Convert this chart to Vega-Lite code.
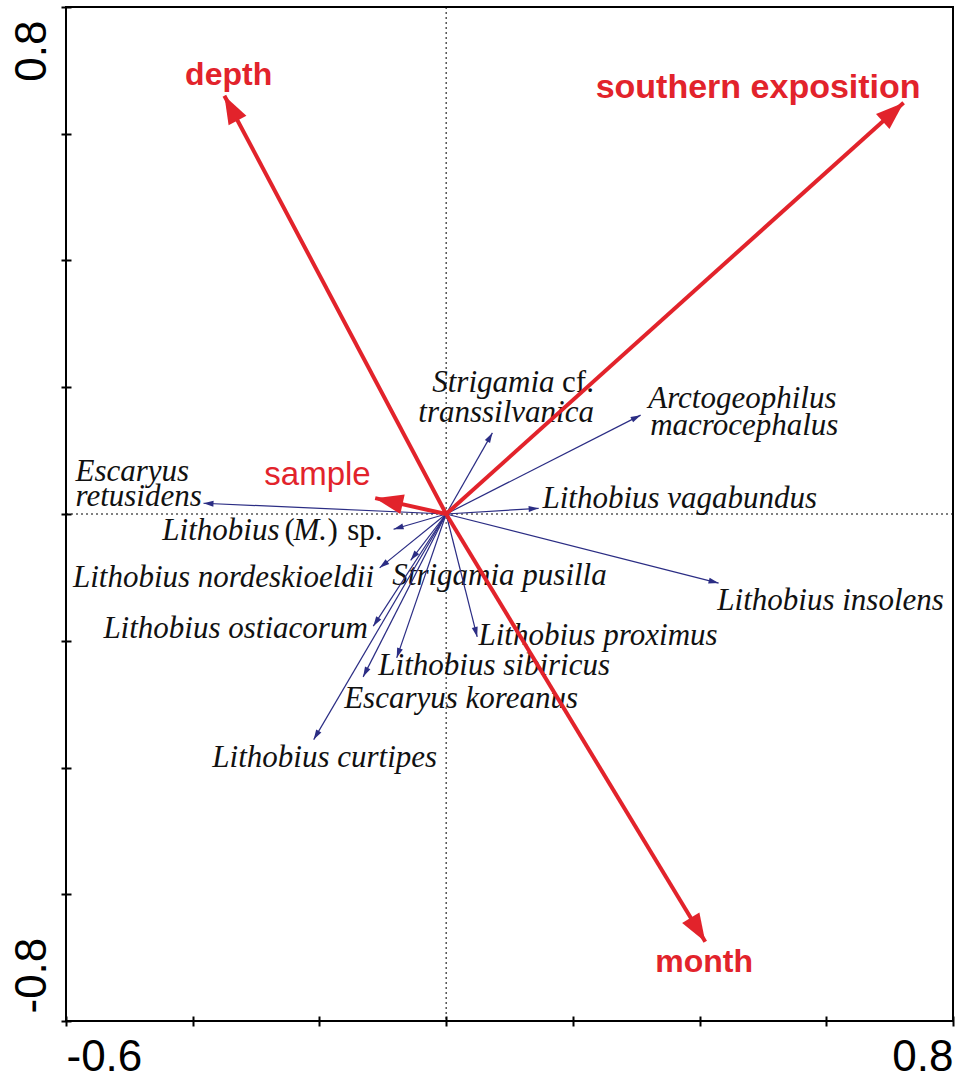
{
  "$schema": "https://vega.github.io/schema/vega-lite/v6.json",
  "width": 887,
  "height": 1014,
  "autosize": {"type": "none"},
  "padding": {"left": 66, "top": 7, "right": 2, "bottom": 58},
  "background": "white",
  "config": {
    "view": {"stroke": "#000", "strokeWidth": 2},
    "axisX": {
      "title": null, "domain": false, "grid": false, "offset": -5,
      "tickSize": 10, "tickWidth": 2, "tickColor": "#000",
      "labelFont": "Liberation Sans", "labelFontSize": 44, "labelColor": "#000",
      "labelPadding": 9, "labelFlush": true, "labelOverlap": false, "labelBound": false
    },
    "axisY": {
      "title": null, "domain": false, "grid": false, "offset": -5,
      "tickSize": 10, "tickWidth": 2, "tickColor": "#000",
      "labelFont": "Liberation Sans", "labelFontSize": 44, "labelColor": "#000",
      "labelAngle": -90, "labelBaseline": "bottom",
      "labelPadding": 7, "labelOverlap": false, "labelBound": false
    }
  },
  "datasets": {
    "env": [
      {"name": "depth", "x0": 0, "y0": 0, "x": -0.350, "y": 0.660, "lx": -0.412, "ly": 0.677},
      {"name": "southern exposition", "x0": 0, "y0": 0, "x": 0.722, "y": 0.649, "lx": 0.236, "ly": 0.656},
      {"name": "month", "x0": 0, "y0": 0, "x": 0.409, "y": -0.675, "lx": 0.330, "ly": -0.723},
      {"name": "sample", "x0": 0, "y0": 0, "x": -0.112, "y": 0.025, "lx": -0.287, "ly": 0.046}
    ],
    "species": [
      {"name": "Escaryus retusidens", "x0": 0, "y0": 0, "x": -0.383, "y": 0.017},
      {"name": "Lithobius (M.) sp.", "x0": 0, "y0": 0, "x": -0.083, "y": -0.024},
      {"name": "Lithobius nordeskioeldii", "x0": 0, "y0": 0, "x": -0.105, "y": -0.085},
      {"name": "Strigamia pusilla", "x0": 0, "y0": 0, "x": -0.056, "y": -0.073},
      {"name": "Lithobius ostiacorum", "x0": 0, "y0": 0, "x": -0.115, "y": -0.177},
      {"name": "Escaryus koreanus", "x0": 0, "y0": 0, "x": -0.131, "y": -0.257},
      {"name": "Lithobius sibiricus", "x0": 0, "y0": 0, "x": -0.078, "y": -0.227},
      {"name": "Lithobius curtipes", "x0": 0, "y0": 0, "x": -0.209, "y": -0.356},
      {"name": "Lithobius proximus", "x0": 0, "y0": 0, "x": 0.049, "y": -0.194},
      {"name": "Lithobius vagabundus", "x0": 0, "y0": 0, "x": 0.146, "y": 0.009},
      {"name": "Arctogeophilus macrocephalus", "x0": 0, "y0": 0, "x": 0.307, "y": 0.156},
      {"name": "Strigamia cf. transsilvanica", "x0": 0, "y0": 0, "x": 0.073, "y": 0.128},
      {"name": "Lithobius insolens", "x0": 0, "y0": 0, "x": 0.430, "y": -0.109}
    ],
    "labels": [
      {"text": "Escaryus", "kind": "taxon", "lx": -0.585, "ly": 0.052},
      {"text": "retusidens", "kind": "taxon", "lx": -0.585, "ly": 0.013},
      {"text": "Lithobius", "kind": "taxon", "lx": -0.4479, "ly": -0.041},
      {"text": "(", "kind": "qualifier", "lx": -0.2553, "ly": -0.041},
      {"text": "M.", "kind": "taxon", "lx": -0.2411, "ly": -0.041},
      {"text": ")", "kind": "qualifier", "lx": -0.1874, "ly": -0.041},
      {"text": "sp.", "kind": "qualifier", "lx": -0.1560, "ly": -0.041},
      {"text": "Lithobius nordeskioeldii", "kind": "taxon", "lx": -0.589, "ly": -0.115},
      {"text": "Strigamia pusilla", "kind": "taxon", "lx": -0.085, "ly": -0.112},
      {"text": "Lithobius ostiacorum", "kind": "taxon", "lx": -0.541, "ly": -0.196},
      {"text": "Lithobius proximus", "kind": "taxon", "lx": 0.051, "ly": -0.207},
      {"text": "Lithobius sibiricus", "kind": "taxon", "lx": -0.107, "ly": -0.254},
      {"text": "Escaryus koreanus", "kind": "taxon", "lx": -0.161, "ly": -0.306},
      {"text": "Lithobius curtipes", "kind": "taxon", "lx": -0.369, "ly": -0.399},
      {"text": "Lithobius insolens", "kind": "taxon", "lx": 0.428, "ly": -0.151},
      {"text": "Lithobius vagabundus", "kind": "taxon", "lx": 0.152, "ly": 0.009},
      {"text": "Arctogeophilus", "kind": "taxon", "lx": 0.319, "ly": 0.168},
      {"text": "macrocephalus", "kind": "taxon", "lx": 0.322, "ly": 0.124},
      {"text": "Strigamia", "kind": "taxon", "lx": -0.022, "ly": 0.193},
      {"text": "cf.", "kind": "qualifier", "lx": 0.183, "ly": 0.193},
      {"text": "transsilvanica", "kind": "taxon", "lx": -0.044, "ly": 0.145}
    ],
    "zero": [{"zero": 0}]
  },
  "layer": [
    {
      "data": {"name": "labels"},
      "transform": [{"filter": "datum.kind === 'taxon'"}],
      "mark": {"type": "text", "font": "Liberation Serif", "fontStyle": "italic", "fontSize": 31, "align": "left", "baseline": "alphabetic", "color": "#111"},
      "encoding": {
        "x": {"field": "lx", "type": "quantitative", "scale": {"domain": [-0.6, 0.8], "nice": false, "zero": false},
          "axis": {"title": null, "values": [-0.6, -0.4, -0.2, 0, 0.2, 0.4, 0.6, 0.8], "labelExpr": "datum.value == -0.6 ? '-0.6' : (datum.value == 0.8 ? '0.8' : '')"}},
        "y": {"field": "ly", "type": "quantitative", "scale": {"domain": [-0.8, 0.8], "nice": false, "zero": false},
          "axis": {"title": null, "values": [-0.8, -0.6, -0.4, -0.2, 0, 0.2, 0.4, 0.6, 0.8], "labelExpr": "datum.value == 0.8 ? '0.8' : (datum.value == -0.8 ? '-0.8' : '')", "labelAlign": {"condition": {"test": "datum.value > 0", "value": "right"}, "value": "left"}, "labelOffset": {"condition": {"test": "datum.value > 0", "value": 13}, "value": -8}}},
        "text": {"field": "text", "type": "nominal"}
      }
    },
    {
      "data": {"name": "labels"},
      "transform": [{"filter": "datum.kind === 'qualifier'"}],
      "mark": {"type": "text", "font": "Liberation Serif", "fontSize": 31, "align": "left", "baseline": "alphabetic", "color": "#111"},
      "encoding": {
        "x": {"field": "lx", "type": "quantitative", "scale": {"domain": [-0.6, 0.8], "nice": false, "zero": false},
          "axis": {"title": null, "values": [-0.6, -0.4, -0.2, 0, 0.2, 0.4, 0.6, 0.8], "labelExpr": "datum.value == -0.6 ? '-0.6' : (datum.value == 0.8 ? '0.8' : '')"}},
        "y": {"field": "ly", "type": "quantitative", "scale": {"domain": [-0.8, 0.8], "nice": false, "zero": false},
          "axis": {"title": null, "values": [-0.8, -0.6, -0.4, -0.2, 0, 0.2, 0.4, 0.6, 0.8], "labelExpr": "datum.value == 0.8 ? '0.8' : (datum.value == -0.8 ? '-0.8' : '')", "labelAlign": {"condition": {"test": "datum.value > 0", "value": "right"}, "value": "left"}, "labelOffset": {"condition": {"test": "datum.value > 0", "value": 13}, "value": -8}}},
        "text": {"field": "text", "type": "nominal"}
      }
    },
    {
      "data": {"name": "zero"},
      "mark": {"type": "rule", "color": "#000", "strokeWidth": 1, "strokeDash": [2, 3]},
      "encoding": {
        "x": {"field": "zero", "type": "quantitative", "scale": {"domain": [-0.6, 0.8], "nice": false, "zero": false},
          "axis": {"title": null, "values": [-0.6, -0.4, -0.2, 0, 0.2, 0.4, 0.6, 0.8], "labelExpr": "datum.value == -0.6 ? '-0.6' : (datum.value == 0.8 ? '0.8' : '')"}}
      }
    },
    {
      "data": {"name": "zero"},
      "mark": {"type": "rule", "color": "#000", "strokeWidth": 1, "strokeDash": [2, 3]},
      "encoding": {
        "y": {"field": "zero", "type": "quantitative", "scale": {"domain": [-0.8, 0.8], "nice": false, "zero": false},
          "axis": {"title": null, "values": [-0.8, -0.6, -0.4, -0.2, 0, 0.2, 0.4, 0.6, 0.8], "labelExpr": "datum.value == 0.8 ? '0.8' : (datum.value == -0.8 ? '-0.8' : '')", "labelAlign": {"condition": {"test": "datum.value > 0", "value": "right"}, "value": "left"}, "labelOffset": {"condition": {"test": "datum.value > 0", "value": 13}, "value": -8}}}
      }
    },
    {
      "data": {"name": "species"},
      "mark": {"type": "rule", "color": "#2b2d84", "strokeWidth": 1.2},
      "encoding": {
        "x": {"field": "x0", "type": "quantitative", "scale": {"domain": [-0.6, 0.8], "nice": false, "zero": false},
          "axis": {"title": null, "values": [-0.6, -0.4, -0.2, 0, 0.2, 0.4, 0.6, 0.8], "labelExpr": "datum.value == -0.6 ? '-0.6' : (datum.value == 0.8 ? '0.8' : '')"}},
        "y": {"field": "y0", "type": "quantitative", "scale": {"domain": [-0.8, 0.8], "nice": false, "zero": false},
          "axis": {"title": null, "values": [-0.8, -0.6, -0.4, -0.2, 0, 0.2, 0.4, 0.6, 0.8], "labelExpr": "datum.value == 0.8 ? '0.8' : (datum.value == -0.8 ? '-0.8' : '')", "labelAlign": {"condition": {"test": "datum.value > 0", "value": "right"}, "value": "left"}, "labelOffset": {"condition": {"test": "datum.value > 0", "value": 13}, "value": -8}}},
        "x2": {"field": "x"},
        "y2": {"field": "y"}
      }
    },
    {
      "data": {"name": "species"},
      "transform": [{"calculate": "atan2(datum.x, datum.y) * 180 / PI", "as": "heading"}],
      "mark": {"type": "point", "shape": "M0,0L-0.3,1L0.3,1Z", "size": 400, "filled": true, "color": "#2b2d84", "opacity": 1, "strokeWidth": 0},
      "encoding": {
        "x": {"field": "x", "type": "quantitative", "scale": {"domain": [-0.6, 0.8], "nice": false, "zero": false},
          "axis": {"title": null, "values": [-0.6, -0.4, -0.2, 0, 0.2, 0.4, 0.6, 0.8], "labelExpr": "datum.value == -0.6 ? '-0.6' : (datum.value == 0.8 ? '0.8' : '')"}},
        "y": {"field": "y", "type": "quantitative", "scale": {"domain": [-0.8, 0.8], "nice": false, "zero": false},
          "axis": {"title": null, "values": [-0.8, -0.6, -0.4, -0.2, 0, 0.2, 0.4, 0.6, 0.8], "labelExpr": "datum.value == 0.8 ? '0.8' : (datum.value == -0.8 ? '-0.8' : '')", "labelAlign": {"condition": {"test": "datum.value > 0", "value": "right"}, "value": "left"}, "labelOffset": {"condition": {"test": "datum.value > 0", "value": 13}, "value": -8}}},
        "angle": {"field": "heading", "type": "quantitative", "scale": null}
      }
    },
    {
      "data": {"name": "env"},
      "mark": {"type": "rule", "color": "#e2232b", "strokeWidth": 4, "strokeCap": "butt"},
      "encoding": {
        "x": {"field": "x0", "type": "quantitative", "scale": {"domain": [-0.6, 0.8], "nice": false, "zero": false},
          "axis": {"title": null, "values": [-0.6, -0.4, -0.2, 0, 0.2, 0.4, 0.6, 0.8], "labelExpr": "datum.value == -0.6 ? '-0.6' : (datum.value == 0.8 ? '0.8' : '')"}},
        "y": {"field": "y0", "type": "quantitative", "scale": {"domain": [-0.8, 0.8], "nice": false, "zero": false},
          "axis": {"title": null, "values": [-0.8, -0.6, -0.4, -0.2, 0, 0.2, 0.4, 0.6, 0.8], "labelExpr": "datum.value == 0.8 ? '0.8' : (datum.value == -0.8 ? '-0.8' : '')", "labelAlign": {"condition": {"test": "datum.value > 0", "value": "right"}, "value": "left"}, "labelOffset": {"condition": {"test": "datum.value > 0", "value": 13}, "value": -8}}},
        "x2": {"field": "x"},
        "y2": {"field": "y"}
      }
    },
    {
      "data": {"name": "env"},
      "transform": [{"calculate": "atan2(datum.x, datum.y) * 180 / PI", "as": "heading"}],
      "mark": {"type": "point", "shape": "M0,0L-0.36,1L0.36,1Z", "size": 3136, "filled": true, "color": "#e2232b", "opacity": 1, "strokeWidth": 0},
      "encoding": {
        "x": {"field": "x", "type": "quantitative", "scale": {"domain": [-0.6, 0.8], "nice": false, "zero": false},
          "axis": {"title": null, "values": [-0.6, -0.4, -0.2, 0, 0.2, 0.4, 0.6, 0.8], "labelExpr": "datum.value == -0.6 ? '-0.6' : (datum.value == 0.8 ? '0.8' : '')"}},
        "y": {"field": "y", "type": "quantitative", "scale": {"domain": [-0.8, 0.8], "nice": false, "zero": false},
          "axis": {"title": null, "values": [-0.8, -0.6, -0.4, -0.2, 0, 0.2, 0.4, 0.6, 0.8], "labelExpr": "datum.value == 0.8 ? '0.8' : (datum.value == -0.8 ? '-0.8' : '')", "labelAlign": {"condition": {"test": "datum.value > 0", "value": "right"}, "value": "left"}, "labelOffset": {"condition": {"test": "datum.value > 0", "value": 13}, "value": -8}}},
        "angle": {"field": "heading", "type": "quantitative", "scale": null}
      }
    },
    {
      "data": {"name": "env"},
      "transform": [{"filter": "datum.name === 'depth' || datum.name === 'month'"}],
      "mark": {"type": "text", "font": "Liberation Sans", "fontWeight": "bold", "fontSize": 32, "align": "left", "baseline": "alphabetic", "color": "#e2232b"},
      "encoding": {
        "x": {"field": "lx", "type": "quantitative", "scale": {"domain": [-0.6, 0.8], "nice": false, "zero": false},
          "axis": {"title": null, "values": [-0.6, -0.4, -0.2, 0, 0.2, 0.4, 0.6, 0.8], "labelExpr": "datum.value == -0.6 ? '-0.6' : (datum.value == 0.8 ? '0.8' : '')"}},
        "y": {"field": "ly", "type": "quantitative", "scale": {"domain": [-0.8, 0.8], "nice": false, "zero": false},
          "axis": {"title": null, "values": [-0.8, -0.6, -0.4, -0.2, 0, 0.2, 0.4, 0.6, 0.8], "labelExpr": "datum.value == 0.8 ? '0.8' : (datum.value == -0.8 ? '-0.8' : '')", "labelAlign": {"condition": {"test": "datum.value > 0", "value": "right"}, "value": "left"}, "labelOffset": {"condition": {"test": "datum.value > 0", "value": 13}, "value": -8}}},
        "text": {"field": "name", "type": "nominal"}
      }
    },
    {
      "data": {"name": "env"},
      "transform": [{"filter": "datum.name === 'southern exposition'"}],
      "mark": {"type": "text", "font": "Liberation Sans", "fontWeight": "bold", "fontSize": 34, "align": "left", "baseline": "alphabetic", "color": "#e2232b"},
      "encoding": {
        "x": {"field": "lx", "type": "quantitative", "scale": {"domain": [-0.6, 0.8], "nice": false, "zero": false},
          "axis": {"title": null, "values": [-0.6, -0.4, -0.2, 0, 0.2, 0.4, 0.6, 0.8], "labelExpr": "datum.value == -0.6 ? '-0.6' : (datum.value == 0.8 ? '0.8' : '')"}},
        "y": {"field": "ly", "type": "quantitative", "scale": {"domain": [-0.8, 0.8], "nice": false, "zero": false},
          "axis": {"title": null, "values": [-0.8, -0.6, -0.4, -0.2, 0, 0.2, 0.4, 0.6, 0.8], "labelExpr": "datum.value == 0.8 ? '0.8' : (datum.value == -0.8 ? '-0.8' : '')", "labelAlign": {"condition": {"test": "datum.value > 0", "value": "right"}, "value": "left"}, "labelOffset": {"condition": {"test": "datum.value > 0", "value": 13}, "value": -8}}},
        "text": {"field": "name", "type": "nominal"}
      }
    },
    {
      "data": {"name": "env"},
      "transform": [{"filter": "datum.name === 'sample'"}],
      "mark": {"type": "text", "font": "Liberation Sans", "fontSize": 33, "align": "left", "baseline": "alphabetic", "color": "#e2232b"},
      "encoding": {
        "x": {"field": "lx", "type": "quantitative", "scale": {"domain": [-0.6, 0.8], "nice": false, "zero": false},
          "axis": {"title": null, "values": [-0.6, -0.4, -0.2, 0, 0.2, 0.4, 0.6, 0.8], "labelExpr": "datum.value == -0.6 ? '-0.6' : (datum.value == 0.8 ? '0.8' : '')"}},
        "y": {"field": "ly", "type": "quantitative", "scale": {"domain": [-0.8, 0.8], "nice": false, "zero": false},
          "axis": {"title": null, "values": [-0.8, -0.6, -0.4, -0.2, 0, 0.2, 0.4, 0.6, 0.8], "labelExpr": "datum.value == 0.8 ? '0.8' : (datum.value == -0.8 ? '-0.8' : '')", "labelAlign": {"condition": {"test": "datum.value > 0", "value": "right"}, "value": "left"}, "labelOffset": {"condition": {"test": "datum.value > 0", "value": 13}, "value": -8}}},
        "text": {"field": "name", "type": "nominal"}
      }
    }
  ]
}
